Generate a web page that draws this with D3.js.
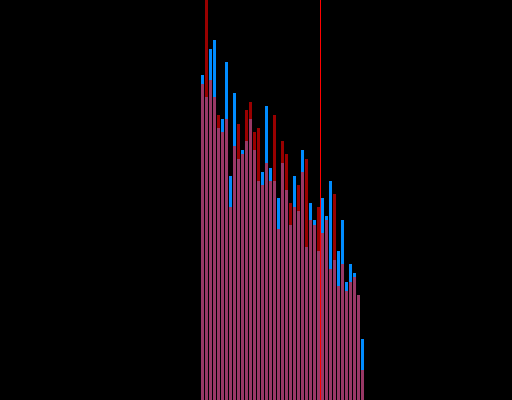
<!DOCTYPE html>
<html>
<head>
<meta charset="utf-8">
<script src="https://cdn.jsdelivr.net/npm/d3@7/dist/d3.min.js"></script>
<style>
  html, body { margin: 0; padding: 0; background: #000; overflow: hidden; }
  svg { display: block; }
</style>
</head>
<body>
<script>
// Histogram bins (bin index along x), two overlaid series, plus a marker bin edge
const firstBin = 50;
const blueValues = [325, 303, 351, 360, 272, 281, 338, 224, 307, 241,
                    250, 259, 281, 250, 219, 228, 294, 232, 219, 202,
                    237, 210, 175, 224, 189, 250, 153, 197, 180, 149,
                    202, 184, 219, 140, 149, 180, 118, 136, 127, 105, 61];
const redValues  = [316, 430, 320, 303, 285, 268, 281, 193, 254, 276,
                    246, 290, 298, 268, 272, 215, 237, 219, 285, 171,
                    259, 246, 197, 193, 215, 228, 241, 180, 175, 193,
                    167, 180, 131, 206, 114, 136, 109, 118, 123, 105, 30];
const markerBin = 80;

const W = 512, H = 400;
const nBins = 128;
const yMax = 400;

const data = blueValues.map((b, i) => ({ bin: firstBin + i, blue: b, red: redValues[i] }));

const x = d3.scaleLinear().domain([0, nBins]).range([0, W]);
const y = d3.scaleLinear().domain([0, yMax]).range([H, 0]);

const svg = d3.select("body").append("svg")
  .attr("width", W).attr("height", H)
  .style("background", "#000");

svg.append("g").selectAll("rect")
  .data(data).join("rect")
  .attr("x", d => x(d.bin) + 1)
  .attr("width", d => x(d.bin + 1) - x(d.bin) - 1)
  .attr("y", d => y(d.blue))
  .attr("height", d => H - y(d.blue))
  .attr("fill", "rgb(0,140,255)")
  .attr("shape-rendering", "crispEdges");

svg.append("g").selectAll("rect")
  .data(data).join("rect")
  .attr("x", d => x(d.bin) + 1)
  .attr("width", d => x(d.bin + 1) - x(d.bin) - 1)
  .attr("y", d => y(d.red))
  .attr("height", d => H - y(d.red))
  .attr("fill", "rgb(255,0,0)")
  .attr("fill-opacity", 0.6)
  .attr("shape-rendering", "crispEdges");

svg.append("line")
  .attr("x1", x(markerBin) + 0.5).attr("x2", x(markerBin) + 0.5)
  .attr("y1", 0).attr("y2", H)
  .attr("stroke", "rgb(255,0,0)")
  .attr("stroke-width", 1);
</script>
</body>
</html>
